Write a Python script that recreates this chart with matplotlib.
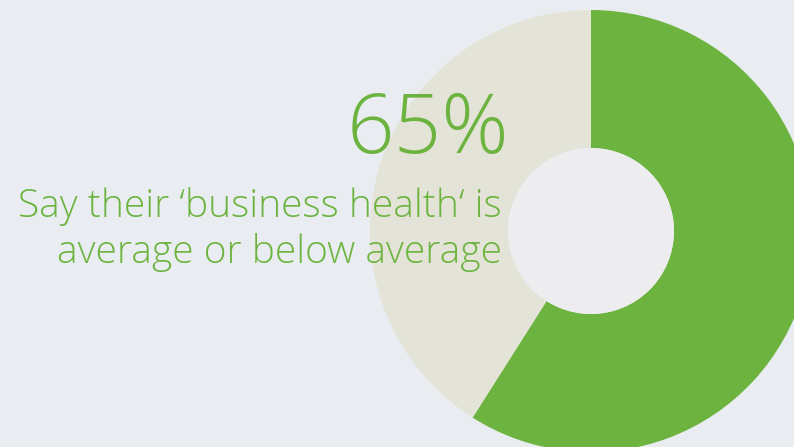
import matplotlib.pyplot as plt
import matplotlib.patches as mpatches

# donut values (percent, as drawn)
labels = ["Average or below", "Above average"]
shares = [59, 41]
colors = ["#6cb43f", "#e4e3d7"]

headline = "65%"
caption = ["Say their \u2018business health\u2018 is", "average or below average"]

bg = "#e9edf1"
green = "#6cb43f"

fig = plt.figure(figsize=(7.94, 4.47), dpi=100)
fig.patch.set_facecolor(bg)
ax = fig.add_axes([0, 0, 1, 1])

# donut, green slice starts at 12 o'clock and runs clockwise
cx, cy, r_out, r_in = 591, 216, 221, 83
ax.pie(shares, colors=colors, startangle=90, counterclock=False,
       center=(cx, cy), radius=r_out, frame=True,
       wedgeprops=dict(width=r_out - r_in, linewidth=0))
ax.add_patch(mpatches.Circle((cx, cy), r_in, color="#ededf0", lw=0, zorder=3))
ax.set_xlim(0, 794)
ax.set_ylim(0, 447)
ax.set_aspect("equal")
ax.axis("off")

fnt = ["Open Sans", "DejaVu Sans"]
ax.text(509, 294, headline, ha="right", va="baseline", fontsize=60,
        color=green, family=fnt, fontweight="light", zorder=5)
ax.text(502, 230, caption[0], ha="right", va="baseline", fontsize=28,
        color=green, family=fnt, fontweight="light", zorder=5)
ax.text(502, 184, caption[1], ha="right", va="baseline", fontsize=28,
        color=green, family=fnt, fontweight="light", zorder=5)

fig.savefig("out.png", dpi=100, facecolor=bg)
